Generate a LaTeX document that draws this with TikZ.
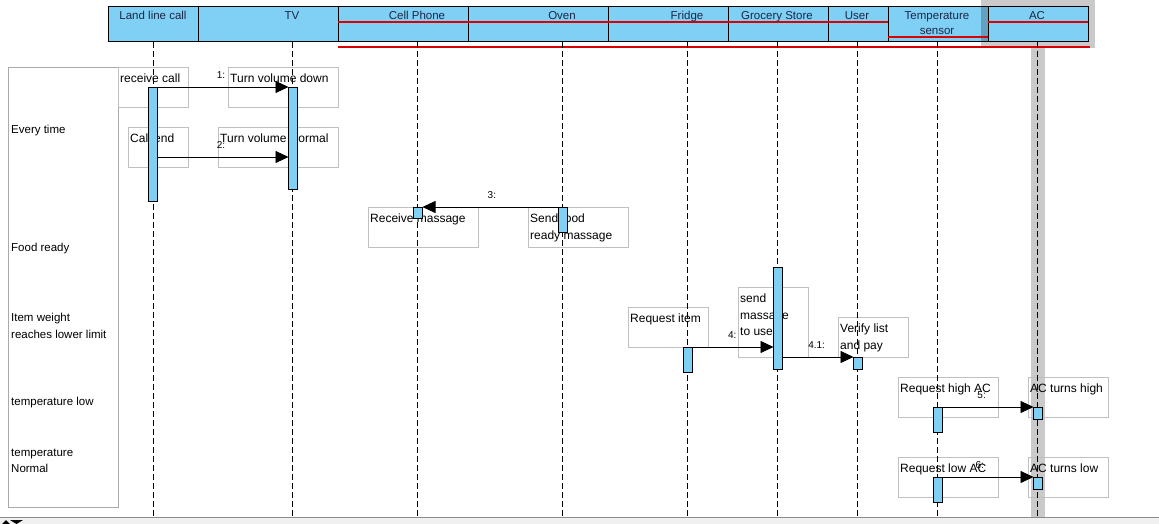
\documentclass[tikz,border=0pt]{standalone}
\usepackage{fontspec}
\setmainfont{Liberation Sans}
\usetikzlibrary{arrows.meta,positioning,calc}
\definecolor{lifeblue}{RGB}{128,207,245}
\definecolor{headink}{RGB}{25,40,70}
\definecolor{notegray}{RGB}{192,192,192}
\definecolor{guardgray}{RGB}{170,170,170}
\definecolor{acshade}{RGB}{202,202,202}
\tikzset{
	sequence diagram/.style={
		x=1pt, y=-1pt,
		every node/.style={font=\fontsize{12}{16.5}\selectfont}
		},
	headbox/.style={draw, fill=lifeblue, line width=1pt, minimum height=35,
		inner sep=0pt, outer sep=0pt, anchor=north west},
	headname/.style={font=\fontsize{11.5}{15}\selectfont, text=headink, align=center,
		anchor=north, inner sep=0pt},
	lifeline/.style={line width=.8pt, dash pattern=on 6pt off 3pt},
	actbar/.style={draw, fill=lifeblue, line width=.8pt, inner sep=0pt, outer sep=0pt,
		minimum width=9, anchor=north},
	note/.style={draw=notegray, line width=.8pt, inner sep=0pt, outer sep=0pt, anchor=north west},
	notetext/.style={align=left, anchor=north west, inner sep=2pt, yshift=-5pt},
	msg/.style={line width=.8pt, -{Triangle[length=13pt,width=12pt]}},
	msglabel/.style={font=\fontsize{10}{12}\selectfont, inner sep=1pt, above=7pt},
	redline/.style={red!85!black, line width=1.1pt},
	guard/.style={anchor=west, align=left, inner sep=0pt, font=\fontsize{11.5}{16.5}\selectfont}
}

\begin{document}
\begin{tikzpicture}[sequence diagram]
	\useasboundingbox (0,0) rectangle (1159,524);
	\fill[acshade] (981,0) rectangle (1095,48);
	\fill[acshade] (1031,48) rectangle (1045,517);
	\foreach \nm/\l/\r in {land/108/198, tv/198/338, cell/338/468, oven/468/608, fridge/608/728,
			groc/728/828, user/828/888, temp/888/988, ac/988/1088} {
		\pgfmathsetmacro{\hw}{\r-\l}
		\node[headbox, minimum width=\hw] (h\nm) at (\l,7) {};
	}
	\fill[black, opacity=.22] (981,7) rectangle (988,42);
	\coordinate (redhi) at (0,22);
	\coordinate (redlo) at (0,37);
	\coordinate (redbase) at (0,47);
	\draw[redline] (hcell.west |- redhi) -- (huser.east |- redhi);
	\draw[redline] (htemp.west |- redlo) -- (htemp.east |- redlo);
	\draw[redline] (hac.west |- redhi) -- (hac.east |- redhi);
	\draw[redline] (hcell.west |- redbase) -- ($(hac.east |- redbase)+(2,0)$);
	\node[draw=guardgray, line width=.8pt, minimum width=110, minimum height=440, anchor=north west,
		inner sep=0pt] (guardbox) at (8,67) {};
	\node[guard] (g1) at (11,131) {Every time};
	\node[guard] (g2) at (11,249) {Food ready};
	\node[guard] (g3) at (11,326) {Item weight\\reaches lower limit};
	\node[guard] (g4) at (11,403) {temperature low};
	\node[guard] (g5) at (11,461) {temperature\\Normal};
	\node[note, minimum width=70, minimum height=40, label={[notetext]north west:receive call}] (nrecv) at (118,67) {};
	\node[note, minimum width=110, minimum height=40, label={[notetext]north west:Turn volume down}] (nvoldn) at (228,67) {};
	\node[note, minimum width=60, minimum height=40, label={[notetext]north west:Call end}] (ncallend) at (128,127) {};
	\node[note, minimum width=120, minimum height=40, label={[notetext]north west:Turn volume Normal}] (nvolnorm) at (218,127) {};
	\node[note, minimum width=110, minimum height=40, label={[notetext]north west:Receive massage}] (nrecvmsg) at (368,207) {};
	\node[note, minimum width=100, minimum height=40, label={[notetext]north west:Send food\\ready massage}] (nsendfood) at (528,207) {};
	\node[note, minimum width=80, minimum height=40, label={[notetext]north west:Request item}] (nreqitem) at (628,307) {};
	\node[note, minimum width=70, minimum height=70, label={[notetext]north west:send\\massage\\to user}] (nsendmsg) at (738,287) {};
	\node[note, minimum width=70, minimum height=40, label={[notetext]north west:Verify list\\and pay}] (nverify) at (838,317) {};
	\node[note, minimum width=100, minimum height=40, label={[notetext]north west:Request high AC}] (nreqhigh) at (898,377) {};
	\node[note, minimum width=80, minimum height=40, label={[notetext]north west:AC turns high}] (nachigh) at (1028,377) {};
	\node[note, minimum width=100, minimum height=40, label={[notetext]north west:Request low AC}] (nreqlow) at (898,457) {};
	\node[note, minimum width=80, minimum height=40, label={[notetext]north west:AC turns low}] (naclow) at (1028,457) {};
	\foreach \nm/\c/\txt in {land/153/Land line call, tv/292/TV, cell/417/Cell Phone, oven/562/Oven,
			fridge/687/Fridge, groc/777/Grocery Store, user/857/User, temp/937/Temperature\\sensor, ac/1037/AC} {
		\node[headname] (t\nm) at (\c,11) {\txt};
		\draw[lifeline] (h\nm.south -| \c,0) -- (\c,517);
	}
	\node[actbar, minimum height=114] (bland) at (153,87) {};
	\node[actbar, minimum height=102] (btv) at (293,87) {};
	\node[actbar, minimum height=11] (bcell) at (418,207) {};
	\node[actbar, minimum height=25] (boven) at (563,207) {};
	\node[actbar, minimum height=25] (bfridge) at (688,347) {};
	\node[actbar, minimum height=102] (bgroc) at (778,267) {};
	\node[actbar, minimum height=12] (buser) at (858,357) {};
	\node[actbar, minimum height=25] (btempa) at (938,407) {};
	\node[actbar, minimum height=12] (baca) at (1038,407) {};
	\node[actbar, minimum height=25] (btempb) at (938,477) {};
	\node[actbar, minimum height=12] (bacb) at (1038,477) {};
	\coordinate (ytwo) at (0,157);
	\draw[msg] (bland.north east) -- node[msglabel, pos=.485] (m1) {1:} (btv.north west);
	\draw[msg] (bland.east |- ytwo) -- node[msglabel, pos=.485] (m2) {2:} (btv.west |- ytwo);
	\draw[msg] (boven.north west) -- node[msglabel, pos=.49] (m3) {3:} (bcell.north east);
	\draw[msg] (bfridge.north east) -- node[msglabel, pos=.49] (m4) {4:} (bgroc.west |- bfridge.north);
	\draw[msg] (bgroc.east |- buser.north) -- node[msglabel, pos=.48] (m41) {4.1:} (buser.north west);
	\draw[msg] (btempa.north east) -- node[msglabel, pos=.43] (m5) {5:} (baca.north west);
	\draw[msg] (btempb.north east) -- node[msglabel, pos=.41] (m6) {6:} (bacb.north west);
	\fill[black!6] (0,517) rectangle (1159,524);
	\draw[black!45, line width=1pt] (0,517) -- (1159,517);
	\fill (2,524) -- (6,520) -- (10,524) -- cycle;
	\fill (10,520) -- (23,520) -- (16.5,524) -- cycle;
\end{tikzpicture}
\end{document}
